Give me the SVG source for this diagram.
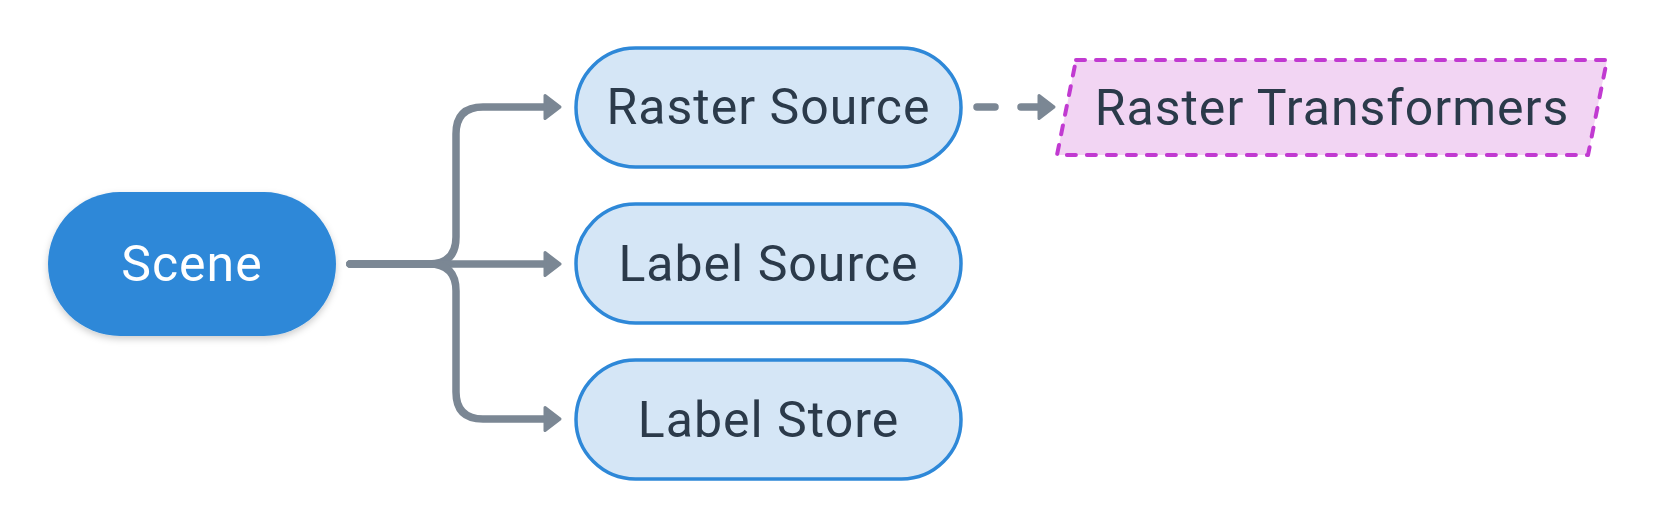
<svg xmlns="http://www.w3.org/2000/svg" width="1656" height="528" viewBox="0 0 1656 528">
  <defs>
    <filter id="shadow" x="-20%" y="-20%" width="140%" height="150%">
      <feDropShadow dx="0" dy="3" stdDeviation="3.5" flood-color="#000" flood-opacity="0.2"/>
    </filter>
    <marker id="arrow" viewBox="-4 -16 24 32" refX="0" refY="0" markerWidth="24" markerHeight="32" markerUnits="userSpaceOnUse" orient="auto" overflow="visible">
      <path d="M-1,-11.5 L14,0 L-1,11.5 Z" fill="#7B8794" stroke="#7B8794" stroke-width="3" stroke-linejoin="round"/>
    </marker>
    <style>
      .conn { fill: none; stroke: #7B8794; stroke-width: 7.5; stroke-linecap: round; stroke-linejoin: round; }
      .dash { stroke-dasharray: 18 26; }
      .child rect { fill: #D5E6F6; stroke: #2E88D8; stroke-width: 3.5; }
      .label { font-family: Roboto, "Noto Sans", "Liberation Sans", sans-serif; font-size: 50px; letter-spacing: 1px; text-anchor: middle; dominant-baseline: central; fill: #2B3A4A; }
      .root rect { fill: #2E88D8; }
      .root text { fill: #FFFFFF; }
      .trans polygon { fill: #F2D5F3; stroke: #C13AD1; stroke-width: 4; stroke-dasharray: 9 11; stroke-linecap: round; stroke-linejoin: round; }
    </style>
  </defs>

  <g id="connectors">
    <path class="conn" d="M350,264 H429 Q456,264 456,237 V134 Q456,107 483,107 H546" marker-end="url(#arrow)"/>
    <path class="conn" d="M350,264 H546" marker-end="url(#arrow)"/>
    <path class="conn" d="M350,264 H429 Q456,264 456,291 V392 Q456,419 483,419 H546" marker-end="url(#arrow)"/>
    <path class="conn dash" d="M977,107 H1040" marker-end="url(#arrow)"/>
  </g>

  <g id="scene" class="root">
    <rect x="48" y="192" width="288" height="144" rx="72" ry="72" filter="url(#shadow)"/>
    <text class="label" x="192" y="264">Scene</text>
  </g>

  <g id="raster-source" class="child">
    <rect x="576" y="48" width="385" height="119" rx="59.5" ry="59.5"/>
    <text class="label" x="768.5" y="107">Raster Source</text>
  </g>

  <g id="label-source" class="child">
    <rect x="576" y="204" width="385" height="119" rx="59.5" ry="59.5"/>
    <text class="label" x="768.5" y="263.5">Label Source</text>
  </g>

  <g id="label-store" class="child">
    <rect x="576" y="360" width="385" height="119" rx="59.5" ry="59.5"/>
    <text class="label" x="768.5" y="419.5">Label Store</text>
  </g>

  <g id="raster-transformers" class="trans">
    <polygon points="1076,60 1607,60 1588,155 1057,155"/>
    <text class="label" x="1332" y="107.5">Raster Transformers</text>
  </g>
</svg>
